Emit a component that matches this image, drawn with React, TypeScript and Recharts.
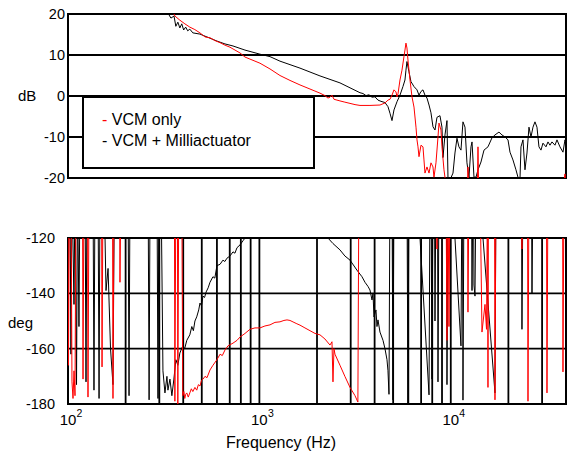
import React from "react";
import { LineChart, Line, XAxis, YAxis, CartesianGrid, ReferenceArea } from "recharts";

const FONT = "'Liberation Sans', Arial, Helvetica, sans-serif";

// grid positions on the frequency axis (Hz)
const freqTicks = [100, 200, 300, 400, 500, 600, 700, 800, 900, 1000, 2000, 3000, 4000, 5000, 6000, 7000, 8000, 9000, 10000, 20000, 30000, 40000];
const decadeExp: Record<number, string> = { 100: "2", 1000: "3", 10000: "4" };
const dbTicks = [-20, -10, 0, 10, 20];
const degTicks = [-180, -160, -140, -120];

// magnitude, dB  [freq Hz, dB]
const vcmOnlyMag: [number, number][] = [
  [349.5, 21], [362, 19.5], [384, 18.5], [408, 17.6], [433, 16.8], [460, 16.2], [489, 15.4], [520, 14.4],
  [552, 14.2], [587, 13.5], [623, 13], [661, 12.4], [702, 11.9], [746, 11.2], [792, 10.5], [841, 9.5],
  [893, 9.0], [1007, 8.0], [1136, 6.6], [1281, 5.0], [1445, 3.8], [1630, 2.7], [1838, 1.7], [2073, 0.7],
  [2200, 0.1], [2282, -0.5], [2338, -0.3], [2395, 0.2], [2453, -0.8], [2543, -1.0], [2637, -1.2], [2797, -1.5],
  [2975, -1.8], [3160, -2.1], [3355, -2.3], [3783, -2.3], [4267, -2.2], [4531, -1.7], [4698, -1.0], [4812, -0.8],
  [4930, 0.2], [5049, 1.5], [5172, 1.0], [5236, -0.2], [5299, 0.5], [5427, 3.9], [5559, 6.3], [5694, 9.6],
  [5763, 11.2], [5833, 12.9], [5903, 11.7], [5975, 8.8], [6122, 3.9], [6271, -0.2], [6424, -2.7], [6581, -7.6],
  [6660, -10.7], [6741, -12.4], [6823, -14.8], [6989, -12], [7157, -12.4], [7244, -15.6], [7332, -18.8], [7510, -17.3],
  [7697, -18.8], [7881, -16.3], [8073, -17.3], [8171, -19.8], [8370, -16.3], [8575, -10.0], [8678, -6.6], [8886, -8.3],
  [8995, -12.4], [9214, -18], [9326, -19.8], [9553, -24], [9904, -28], [10517, -26], [11171, -30], [11866, -27],
  [12150, -28], [12300, -17.3], [12449, -28], [13383, -30], [13710, -28], [13875, -12.4], [14043, -28], [16030, -30],
  [18076, -28], [22988, -30], [29242, -26], [37200, -28], [39510, -19], [40000, -22],
];

const vcmMilliMag: [number, number][] = [
  [325, 21], [333, 20.2], [345, 19], [358, 19.5], [366, 17], [375, 18], [384, 16.6], [393, 17.6],
  [402, 16.1], [412, 16.8], [422, 15.9], [433, 16.3], [449, 15.4], [489, 15.1], [552, 14.1], [600, 13.4],
  [661, 12.7], [728, 12.2], [841, 11.2], [1007, 10.2], [1136, 9.6], [1281, 8.5], [1630, 6.8], [2073, 4.9],
  [2637, 3.2], [3355, 0.8], [3478, 0.6], [3606, 0.1], [3738, 0.3], [3876, -0.3], [4017, -0.2], [4165, -1.0],
  [4318, -1.3], [4531, -1.6], [4698, -2.6], [4812, -4.2], [4930, -6.0], [5049, -3.4], [5236, -1.4], [5427, 0.2],
  [5625, 2.3], [5763, 3.9], [5833, 6.3], [5903, 8.4], [6048, 5.9], [6195, 3.5], [6424, 2.3], [6661, 1.5],
  [6823, 0.2], [6989, 1.1], [7157, 1.5], [7332, 0.2], [7510, -0.5], [7697, -2.2], [7881, -4.1], [8073, -7.5],
  [8270, -8.3], [8471, -5.2], [8780, -4.8], [8995, -7.6], [9104, -15], [9326, -9.5], [9553, -6], [9669, -19.8],
  [9904, -20.5], [10271, -18.8], [10517, -13.9], [10775, -10.3], [11034, -12.4], [11306, -13.2], [11582, -6.3], [11866, -7.6],
  [12150, -16.3], [12449, -19.8], [12753, -12.4], [12911, -11.2], [13220, -19.8], [13545, -19.8], [13875, -18], [14382, -16.1],
  [14912, -13.2], [15646, -12.4], [16419, -10.2], [17021, -9.5], [17860, -8.8], [18517, -9.5], [19198, -10], [19906, -10.7],
  [20390, -13.7], [21135, -15.6], [21909, -18], [22443, -19.8], [22988, -20.5], [23269, -12.4], [23837, -10.7], [24418, -18],
  [25012, -13.9], [25622, -7.6], [26244, -10], [26886, -7.6], [27542, -6.3], [28209, -7.6], [28893, -12.4], [29601, -13.2],
  [30319, -11.5], [31435, -12.4], [32200, -11.2], [32987, -12], [33789, -11.2], [35030, -12], [35885, -10.7], [37200, -12.4],
  [38570, -13.7], [39510, -10.7], [40000, -11.5],
];

// phase, deg  [freq Hz, deg]  (values above -120 / below -180 run off the plot)
const vcmOnlyPhase: [number, number][] = [
  [100, -100], [100.6, -166], [101.8, -100], [103.7, -100], [104.9, -172], [106.2, -178], [107.5, -168], [108.8, -177],
  [110.1, -100], [119, -100], [119.8, -171], [121.2, -100], [126.4, -100], [127.2, -177.5], [128.8, -100], [149.7, -100],
  [150.6, -166.6], [152.4, -100], [170.8, -100], [171.8, -178], [174, -100], [185.8, -100], [186.9, -136], [189.2, -100],
  [359.6, -100], [361.8, -179], [366.2, -100], [372.9, -100], [374.8, -180.5], [379.3, -100], [393, -100], [397.8, -177],
  [403, -175.5], [407.5, -178], [412, -176.5], [417.5, -176], [425, -177.5], [433, -176], [441, -174.5], [449, -175.5],
  [460.5, -174], [470.5, -175], [480, -173], [489.4, -173.5], [498, -171.5], [507.4, -171], [519.8, -170], [532.5, -170.5],
  [552, -167.7], [572, -166], [600, -164], [623, -162], [640, -162.5], [661, -160.5], [685, -159], [728, -158],
  [764, -157], [792, -155.8], [841, -154.5], [893, -153], [948, -152.5], [1007, -152.5], [1069, -151.8], [1136, -151.4],
  [1206, -150.5], [1281, -150.3], [1344, -149.8], [1394, -149.6], [1445, -149.8], [1516, -150.5], [1570, -151], [1630, -151.5],
  [1730, -152.5], [1838, -153.5], [1953, -154.5], [2073, -155], [2200, -156.5], [2338, -158.7], [2395, -157.5], [2424, -172],
  [2453, -160], [2483, -162], [2637, -166], [2797, -170], [2975, -174], [3160, -177], [3271, -179.3], [3311, -100],
  [8420, -100], [8471, -124], [8522, -100], [9440, -100], [9553, -157], [9669, -100], [9786, -152], [9904, -100],
  [12225, -100], [12300, -146.8], [12449, -100], [14210, -100], [14556, -154], [15093, -144], [15370, -153], [15555, -100],
  [15646, -174], [15740, -100], [16920, -100], [17021, -178.5], [17228, -100], [23408, -100], [23548, -124], [23690, -100],
  [25165, -100], [25322, -179], [25622, -100], [31625, -100], [31815, -176], [32200, -100], [38380, -100], [38570, -168.4],
  [39040, -100], [40000, -100],
];

const vcmMilliPhase: [number, number][] = [
  [100, -166], [101.2, -100], [102.4, -100], [103.6, -162], [104.9, -100], [107.5, -144], [108.8, -100], [110.8, -173],
  [112.2, -100], [114.1, -152], [115.5, -100], [122.7, -100], [124.2, -172], [125.7, -100], [135.1, -100], [136.7, -175],
  [138.4, -100], [143.5, -100], [145.3, -178], [147, -100], [154.2, -100], [158, -139], [161.9, -131], [166.8, -160],
  [171.8, -173], [174.9, -100], [205.9, -100], [208.4, -177], [210.9, -100], [262.1, -100], [265.3, -178.5], [268.5, -100],
  [291.7, -100], [295.2, -178], [298.8, -100], [306.2, -100], [313.4, -168], [321, -176], [328.8, -170], [332.8, -175],
  [340.9, -171], [349, -177], [357.5, -171], [366.2, -164], [375, -166], [384, -161.6], [397.8, -159], [407, -160],
  [417.5, -157], [433, -155], [443.5, -152], [452, -153.5], [460.5, -150], [470.5, -148.5], [482, -146], [489.4, -143.5],
  [498, -144.5], [507.4, -141], [517, -141.5], [527, -139.5], [540, -138], [552, -136], [572, -134], [585, -134.5],
  [600, -130], [623, -129.5], [645, -128], [660, -128.5], [677, -127.3], [702, -126.5], [728, -125], [745, -125.5],
  [764, -123.5], [792, -122.5], [821, -121], [841, -120], [893, -117], [1300, -110], [2000, -112], [2282, -120],
  [2424, -122], [2637, -124.3], [2797, -126.5], [2975, -128], [3232, -131.6], [3436, -134], [3563, -136], [3693, -137.5],
  [3783, -138.8], [3876, -142.4], [3923, -140], [3970, -148.5], [4066, -146], [4115, -152], [4165, -149.6], [4267, -154],
  [4425, -157], [4531, -160], [4642, -164], [4698, -168], [4755, -176.5], [4812, -100], [4930, -100], [4989, -178.5],
  [5049, -100], [5903, -100], [5975, -181], [6047, -100], [6823, -100], [6906, -120], [7697, -176.7], [7790, -100],
  [7881, -100], [7976, -171], [8073, -100], [8220, -100], [8270, -150], [8370, -100], [8522, -100], [8575, -172],
  [8678, -100], [9498, -100], [9553, -173], [9669, -100], [10391, -100], [10517, -120], [11306, -159], [11443, -100],
  [11512, -100], [11582, -178.6], [11722, -100], [12833, -100], [12911, -139], [13067, -100], [13145, -100], [13220, -137],
  [13383, -141], [13545, -100], [14556, -100], [14732, -120], [17021, -176], [17228, -100], [23408, -100], [23548, -153],
  [23837, -100], [26400, -100], [26568, -140], [26886, -100], [40000, -100],
];

const toPoints = (arr: [number, number][]) => arr.map(([f, v]) => ({ f, v }));

function FreqTick(props: any) {
  const { x, y, payload } = props;
  const exp = decadeExp[payload.value];
  if (!exp) return <g />;
  return (
    <g>
      <text x={x} y={y + 21} textAnchor="middle" fontSize={15} fill="#000">10</text>
      <text x={x + 8.5} y={y + 13} fontSize={10.5} fill="#000">{exp}</text>
    </g>
  );
}

export default function App() {
  const tickStyle = { fill: "#000", fontSize: 14.5 };
  return (
    <div style={{ position: "absolute", left: 0, top: 0, width: 568, height: 455, background: "#fff", fontFamily: FONT }}>
      <div style={{ position: "absolute", left: 0, top: 0 }}>
        <LineChart width={568} height={200} margin={{ top: 14, right: 2, bottom: 0, left: 0 }}>
          <CartesianGrid stroke="#000" strokeOpacity={1} strokeWidth={1.8} />
          <XAxis dataKey="f" type="number" scale="log" domain={[100, 40000]} allowDataOverflow ticks={freqTicks}
            tick={false} tickLine={false} axisLine={false} height={22} />
          <YAxis type="number" domain={[-20, 20]} allowDataOverflow ticks={dbTicks} width={68} tickSize={0} tickMargin={3}
            axisLine={false} tickLine={false} tick={tickStyle}
            label={{ value: "dB", position: "insideLeft", offset: 18, fill: "#000", fontSize: 15 }} />
          <ReferenceArea x1={100} x2={40000} y1={-20} y2={20} fill="none" fillOpacity={0} stroke="#000" strokeWidth={2} />
          <Line data={toPoints(vcmMilliMag)} dataKey="v" type="linear" stroke="#000" strokeWidth={1} dot={false} isAnimationActive={false} />
          <Line data={toPoints(vcmOnlyMag)} dataKey="v" type="linear" stroke="#ff0000" strokeWidth={1} dot={false} isAnimationActive={false} />
        </LineChart>
      </div>

      <div style={{ position: "absolute", left: 82, top: 96, width: 233, height: 73, boxSizing: "border-box", border: "2px solid #000", background: "#fff", paddingTop: 11, paddingLeft: 18, fontSize: 16, lineHeight: "21px", color: "#000" }}>
        <div><span style={{ color: "#ff0000" }}>-</span> VCM only</div>
        <div>- VCM + Milliactuator</div>
      </div>

      <div style={{ position: "absolute", left: 0, top: 220 }}>
        <LineChart width={568} height={235} margin={{ top: 18, right: 2, bottom: 0, left: 0 }}>
          <CartesianGrid stroke="#000" strokeOpacity={1} strokeWidth={1.8} />
          <XAxis dataKey="f" type="number" scale="log" domain={[100, 40000]} allowDataOverflow ticks={freqTicks}
            tick={<FreqTick />} tickSize={0} tickMargin={0} tickLine={false} axisLine={false} height={51} interval={0}
            label={{ value: "Frequency (Hz)", position: "insideBottom", offset: 7, dx: -36, fill: "#000", fontSize: 16 }} />
          <YAxis type="number" domain={[-180, -120]} allowDataOverflow ticks={degTicks} width={68} tickSize={0} tickMargin={13}
            axisLine={false} tickLine={false} tick={tickStyle}
            label={{ value: "deg", position: "insideLeft", offset: 8, dy: 2, fill: "#000", fontSize: 15 }} />
          <ReferenceArea x1={100} x2={40000} y1={-180} y2={-120} fill="none" fillOpacity={0} stroke="#000" strokeWidth={2} />
          <Line data={toPoints(vcmMilliPhase)} dataKey="v" type="linear" stroke="#000" strokeWidth={1} dot={false} isAnimationActive={false} />
          <Line data={toPoints(vcmOnlyPhase)} dataKey="v" type="linear" stroke="#ff0000" strokeWidth={1} dot={false} isAnimationActive={false} />
        </LineChart>
      </div>
    </div>
  );
}
